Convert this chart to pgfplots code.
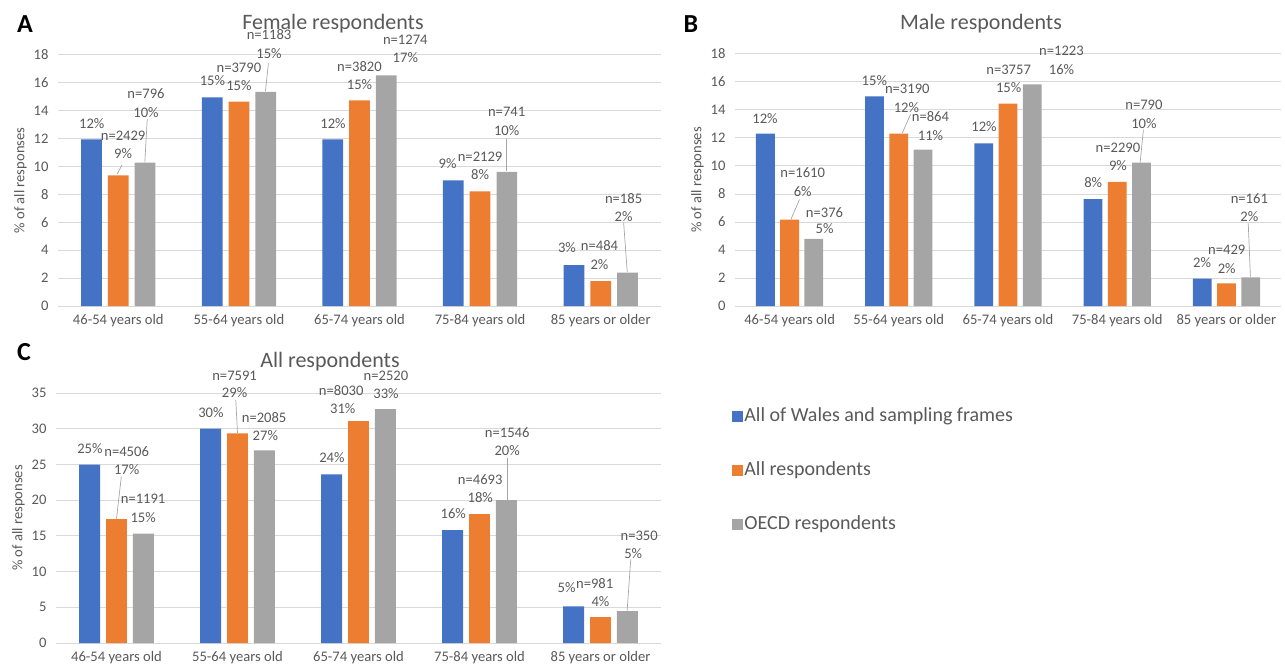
\documentclass[border=0pt]{standalone}
\usepackage{fontspec}
\setmainfont{Carlito}
\usepackage{pgfplots}
\pgfplotsset{compat=1.18}
\definecolor{cblue}{HTML}{4472C4}
\definecolor{corange}{HTML}{ED7D31}
\definecolor{cgray}{HTML}{A5A5A5}
\definecolor{gridc}{HTML}{D9D9D9}
\definecolor{txt}{HTML}{595959}
\definecolor{lead}{HTML}{A6A6A6}
\newcommand{\fs}{\fontsize{14.6}{17}\selectfont}
\newcommand{\lab}[3]{\node[font=\fs, text=txt, inner sep=0pt] at (axis cs:#1,#2) {#3};}
\newcommand{\ld}[4]{\draw[lead, line width=0.7pt] (axis cs:#1,#2) -- (axis cs:#3,#4);}
\pgfplotsset{
  panel/.style={
    scale only axis,
    anchor=south west,
    xmin=-0.5, xmax=4.5, ymin=0,
    xtick={0,1,2,3,4},
    xticklabels={46-54 years old,55-64 years old,65-74 years old,75-84 years old,85 years or older},
    axis line style={draw=none},
    major tick length=0pt,
    ymajorgrids,
    grid style={draw=gridc, line width=1pt},
    tick label style={font=\fs, text=txt},
    /pgf/number format/assume math mode=true,
    xticklabel style={yshift=-5pt},
    yticklabel style={xshift=-6pt},
    ylabel={\% of all responses},
    ylabel style={font=\fs, text=txt},
    clip=false,
  },
  bb/.style={ybar, bar width=0.172, bar shift=-0.222, fill=cblue, draw=none},
  bo/.style={ybar, bar width=0.172, bar shift=0, fill=corange, draw=none},
  bg/.style={ybar, bar width=0.172, bar shift=0.222, fill=cgray, draw=none},
}
\begin{document}
\begin{tikzpicture}
\path[use as bounding box] (0pt,0pt) rectangle (1285pt,-671pt);
% ---------------- Panel A
\begin{axis}[panel, at={(58pt,-306pt)}, width=603pt, height=251pt,
  ymax=18, ytick={0,2,...,18}]
\addplot[bb] coordinates {(0,11.95) (1,14.97) (2,11.95) (3,9.01) (4,2.94)};
\addplot[bo] coordinates {(0,9.37) (1,14.65) (2,14.75) (3,8.22) (4,1.79)};
\addplot[bg] coordinates {(0,10.28) (1,15.35) (2,16.54) (3,9.61) (4,2.39)};
\ld{0.03}{10.1}{-0.01}{9.45}
\ld{0.24}{13.4}{0.22}{10.3}
\ld{1.245}{17.4}{1.22}{15.4}
\ld{3.22}{12.0}{3.22}{9.65}
\ld{4.19}{6.0}{4.22}{2.45}
\lab{-0.22}{13.1}{12\%}
\lab{0.78}{16.2}{15\%}
\lab{1.78}{13.1}{12\%}
\lab{2.73}{10.2}{9\%}
\lab{3.72}{4.2}{3\%}
\lab{0.04}{12.2}{n=2429}\lab{0.04}{10.9}{9\%}
\lab{1.0}{17.1}{n=3790}\lab{1.0}{15.8}{15\%}
\lab{2.0}{17.2}{n=3820}\lab{2.0}{15.9}{15\%}
\lab{3.0}{10.7}{n=2129}\lab{3.0}{9.4}{8\%}
\lab{3.99}{4.3}{n=484}\lab{3.99}{3.0}{2\%}
\lab{0.23}{15.2}{n=796}\lab{0.23}{13.9}{10\%}
\lab{1.25}{19.5}{n=1183}\lab{1.25}{18.1}{15\%}
\lab{2.38}{19.1}{n=1274}\lab{2.38}{17.8}{17\%}
\lab{3.22}{13.9}{n=741}\lab{3.22}{12.6}{10\%}
\lab{4.19}{7.7}{n=185}\lab{4.19}{6.4}{2\%}
\end{axis}
% ---------------- Panel B
\begin{axis}[panel, at={(735pt,-306pt)}, width=546pt, height=252pt,
  ymax=18, ytick={0,2,...,18}]
\addplot[bb] coordinates {(0,12.31) (1,14.98) (2,11.62) (3,7.64) (4,1.95)};
\addplot[bo] coordinates {(0,6.17) (1,12.31) (2,14.45) (3,8.86) (4,1.62)};
\addplot[bg] coordinates {(0,4.79) (1,11.17) (2,15.83) (3,10.24) (4,2.05)};
\ld{0.09}{7.6}{0.013}{6.2}
\ld{1.108}{13.7}{1.032}{12.35}
\ld{3.24}{12.6}{3.21}{10.25}
\ld{4.2}{5.9}{4.22}{2.1}
\lab{-0.225}{13.4}{12\%}
\lab{0.776}{16.1}{15\%}
\lab{1.78}{12.8}{12\%}
\lab{2.78}{8.8}{8\%}
\lab{3.777}{3.1}{2\%}
\lab{0.12}{9.5}{n=1610}\lab{0.12}{8.2}{6\%}
\lab{1.078}{15.5}{n=3190}\lab{1.07}{14.2}{12\%}
\lab{2.006}{16.9}{n=3757}\lab{2.006}{15.6}{15\%}
\lab{3.007}{11.3}{n=2290}\lab{3.007}{10.0}{9\%}
\lab{4.003}{4.0}{n=429}\lab{4.003}{2.7}{2\%}
\lab{0.32}{6.7}{n=376}\lab{0.32}{5.5}{5\%}
\lab{1.29}{13.5}{n=864}\lab{1.29}{12.2}{11\%}
\lab{2.49}{18.2}{n=1223}\lab{2.49}{16.9}{16\%}
\lab{3.245}{14.4}{n=790}\lab{3.245}{13.0}{10\%}
\lab{4.21}{7.7}{n=161}\lab{4.21}{6.4}{2\%}
\end{axis}
% ---------------- Panel C
\begin{axis}[panel, at={(56pt,-643pt)}, width=605pt, height=250pt,
  ymax=35, ytick={0,5,...,35},
  legend style={draw=none, fill=none, font=\fontsize{20}{24}\selectfont, text=txt,
    at={(1.117,0.692)}, anchor=west, row sep=32pt, inner sep=0pt,
    nodes={inner sep=2pt, text height=14pt, text depth=4pt, anchor=west}},
  legend cell align=left]
\addplot[bb, forget plot] coordinates {(0,24.97) (1,30.0) (2,23.6) (3,15.82) (4,5.13)};
\addplot[bo, forget plot] coordinates {(0,17.36) (1,29.35) (2,31.08) (3,18.06) (4,3.64)};
\addplot[bg, forget plot] coordinates {(0,15.3) (1,26.97) (2,32.76) (3,20.02) (4,4.48)};
\addlegendimage{legend image code/.code={\fill[cblue] (0pt,-5pt) rectangle (10pt,5pt);}}
\addlegendentry{All of Wales and sampling frames}
\addlegendimage{legend image code/.code={\fill[corange] (0pt,-5pt) rectangle (10pt,5pt);}}
\addlegendentry{All respondents}
\addlegendimage{legend image code/.code={\fill[cgray] (0pt,-5pt) rectangle (10pt,5pt);}}
\addlegendentry{OECD respondents}
\ld{0.04}{23.3}{0.0}{17.4}
\ld{0.986}{34.0}{1.0}{29.4}
\ld{3.229}{25.9}{3.229}{20.05}
\ld{4.25}{11.7}{4.22}{4.5}
\lab{-0.22}{27.2}{25\%}
\lab{0.78}{32.2}{30\%}
\lab{1.78}{25.9}{24\%}
\lab{2.783}{18.1}{16\%}
\lab{3.72}{7.7}{5\%}
\lab{0.084}{26.8}{n=4506}\lab{0.084}{24.3}{17\%}
\lab{0.976}{37.4}{n=7591}\lab{0.976}{35.0}{29\%}
\lab{1.857}{35.3}{n=8030}\lab{1.87}{32.8}{31\%}
\lab{3.006}{22.9}{n=4693}\lab{3.006}{20.3}{18\%}
\lab{3.952}{8.3}{n=981}\lab{4.0}{5.8}{4\%}
\lab{0.22}{20.2}{n=1191}\lab{0.22}{17.6}{15\%}
\lab{1.22}{31.6}{n=2085}\lab{1.23}{29.1}{27\%}
\lab{2.227}{37.4}{n=2520}\lab{2.227}{34.9}{33\%}
\lab{3.229}{29.5}{n=1546}\lab{3.229}{27.0}{20\%}
\lab{4.32}{15.0}{n=350}\lab{4.27}{12.5}{5\%}
\end{axis}
% ---------------- titles and panel letters
\node[font=\fontsize{22}{26}\selectfont, text=txt] at (333pt,-24pt) {Female respondents};
\node[font=\fontsize{22}{26}\selectfont, text=txt] at (981pt,-24pt) {Male respondents};
\node[font=\fontsize{22}{26}\selectfont, text=txt] at (330pt,-362pt) {All respondents};
\node[font=\fontsize{26}{30}\selectfont\bfseries] at (25pt,-24pt) {A};
\node[font=\fontsize{26}{30}\selectfont\bfseries] at (691pt,-24pt) {B};
\node[font=\fontsize{26}{30}\selectfont\bfseries] at (24pt,-352pt) {C};
\end{tikzpicture}
\end{document}
